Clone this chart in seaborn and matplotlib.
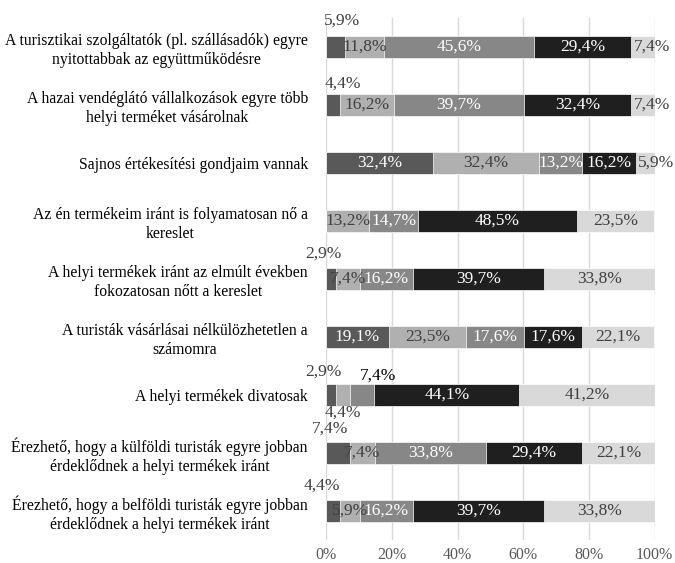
import numpy as np
import matplotlib
matplotlib.use('Agg')
import matplotlib.pyplot as plt
import seaborn as sns

allitasok = [
    'A turisztikai szolgáltatók (pl. szállásadók) egyre\nnyitottabbak az együttműködésre',
    'A hazai vendéglátó vállalkozások egyre több\nhelyi terméket vásárolnak',
    'Sajnos értékesítési gondjaim vannak',
    'Az én termékeim iránt is folyamatosan nő a\nkereslet',
    'A helyi termékek iránt az elmúlt években\nfokozatosan nőtt a kereslet',
    'A turisták vásárlásai nélkülözhetetlen a\nszámomra',
    'A helyi termékek divatosak',
    'Érezhető, hogy a külföldi turisták egyre jobban\nérdeklődnek a helyi termékek iránt',
    'Érezhető, hogy a belföldi turisták egyre jobban\nérdeklődnek a helyi termékek iránt',
]

# megoszlás (%) az 1-5 skála szerint
szint1 = [5.9, 4.4, 32.4, 0.0, 2.9, 19.1, 2.9, 7.4, 4.4]
szint2 = [11.8, 16.2, 32.4, 13.2, 7.4, 23.5, 4.4, 7.4, 5.9]
szint3 = [45.6, 39.7, 13.2, 14.7, 16.2, 17.6, 7.4, 33.8, 16.2]
szint4 = [29.4, 32.4, 16.2, 48.5, 39.7, 17.6, 44.1, 29.4, 39.7]
szint5 = [7.4, 7.4, 5.9, 23.5, 33.8, 22.1, 41.2, 22.1, 33.8]

szinek = ['#595959', '#b0b0b0', '#878787', '#1f1f1f', '#d9d9d9']
szoveg_szin = ['white', '#404040', 'white', 'white', '#404040']

vals = np.array([szint1, szint2, szint3, szint4, szint5]).T
cum = vals.cumsum(axis=1)

sns.set_theme(style='white')
plt.rcParams['font.family'] = ['Liberation Serif', 'DejaVu Serif']

fig, ax = plt.subplots(figsize=(6.75, 5.63), dpi=100)
fig.subplots_adjust(left=0.483, right=0.970, top=0.968, bottom=0.041)

# egymásra rakott sávok: hátulról előre rajzolva
for k in range(4, -1, -1):
    sns.barplot(x=cum[:, k], y=allitasok, orient='h', color=szinek[k],
                saturation=1, width=0.38, edgecolor='white', linewidth=0.5,
                ax=ax, zorder=2)

ax.set_xlim(0, 100)
ax.set_ylim(8.5, -0.5)
ax.set_xticks(range(0, 101, 20))
ax.set_xticklabels([f'{t}%' for t in range(0, 101, 20)])
ax.xaxis.grid(True, color='#d9d9d9', lw=1)
ax.set_axisbelow(True)
for s in ax.spines.values():
    s.set_visible(False)
ax.tick_params(axis='x', length=0, pad=5, labelsize=11.5, labelcolor='#595959')
ax.tick_params(axis='y', length=0, pad=13, labelsize=11.3, labelcolor='black')
for t in ax.get_yticklabels():
    t.set_multialignment('center')
    t.set_linespacing(1.25)
ax.set_xlabel('')
ax.set_ylabel('')

# kézzel áthelyezett címkék (sor, szint): (mód, dx pixel, dy pixel)
helyek = {
    (0, 0): ('out', 6, 26), (1, 0): ('out', 10, 21), (4, 0): ('out', -7, 25),
    (6, 0): ('out', -7, 23), (6, 1): ('out', 0, -18), (6, 2): ('out', 16, 19),
    (7, 0): ('out', -8, 24), (8, 0): ('out', -11, 25),
    (0, 4): ('in', 9, 0), (1, 4): ('in', 9, 0), (2, 4): ('in', 11, 0),
}

for i in range(len(allitasok)):
    for k in range(5):
        v = vals[i, k]
        if v <= 0:
            continue
        xc = cum[i, k] - v / 2
        mod, dx, dy = helyek.get((i, k), ('in', 0, 0))
        if mod == 'in':
            c = szoveg_szin[k]
        else:
            c = 'black' if (i, k) == (6, 2) else '#404040'
        ax.annotate(f'{v:.1f}'.replace('.', ',') + '%', xy=(xc, i),
                    xytext=(dx, dy), textcoords='offset pixels',
                    ha='center', va='center', fontsize=12.5, color=c,
                    annotation_clip=False, zorder=5)

plt.savefig('out.png', dpi=100)
